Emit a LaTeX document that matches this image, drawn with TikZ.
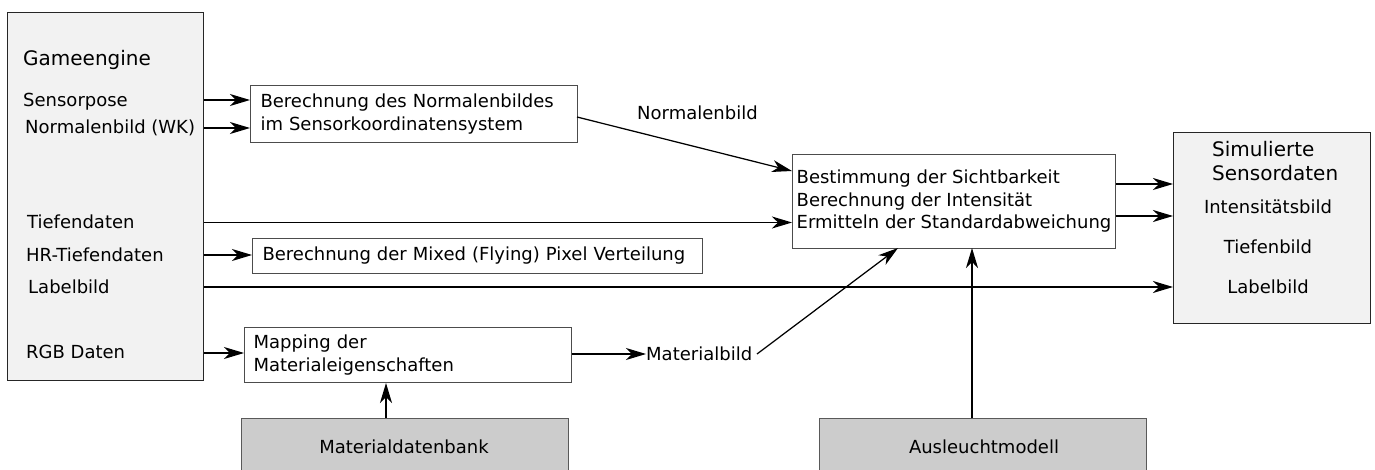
\documentclass[tikz,border=0pt]{standalone}
\usepackage{fontspec}
\setmainfont{DejaVu Sans}
\usetikzlibrary{arrows.meta}
\begin{document}
\begin{tikzpicture}[x=1pt,y=-1pt,
  every node/.style={font=\fontsize{18}{22.5}\selectfont, inner sep=0pt},
  bigtxt/.style={font=\fontsize{20}{24}\selectfont},
  proc/.style={draw=black!70, line width=1pt, fill=white, anchor=north west, inner xsep=10pt, align=left},
  dbox/.style={draw=black!65, line width=1pt, fill=black!20, anchor=north west},
  iobox/.style={draw=black!85, line width=1.2pt, fill=black!5, anchor=north west},
  arr/.style={line width=1.25pt, -{Stealth[length=20pt,width=12pt,inset=6pt]}},
  ln/.style={line width=1.25pt}
]
\useasboundingbox (0,0) rectangle (1375,470);
% Gameengine
\node[iobox, minimum width=196pt, minimum height=368pt] (ge) at (7,12) {};
\node[bigtxt, anchor=west] (tge) at (23,60) {Gameengine};
\node[anchor=west] (tsp) at (23,102) {Sensorpose};
\node[anchor=west] (tnw) at (25,128) {Normalenbild (WK)};
\node[anchor=west] (ttd) at (27,222) {Tiefendaten};
\node[anchor=west] (thr) at (26,255) {HR-Tiefendaten};
\node[anchor=west] (tlb) at (28,287) {Labelbild};
\node[anchor=west] (trgb) at (26,352) {RGB Daten};
% process boxes
\node[proc, text width=307pt, minimum height=57pt] (b1) at (250,85)
  {Berechnung des Normalenbildes\\im Sensorkoordinatensystem};
\node[proc, text width=430pt, minimum height=35pt] (b2) at (252,238)
  {Berechnung der Mixed (Flying) Pixel Verteilung};
\node[proc, text width=309pt, minimum height=55pt, inner xsep=9pt] (b4) at (244,327)
  {Mapping der\\Materialeigenschaften};
\node[proc, minimum width=323pt, minimum height=94pt, inner xsep=4pt] (b3) at (792,154)
  {Bestimmung der Sichtbarkeit\\Berechnung der Intensität\\Ermitteln der Standardabweichung};
% Output
\node[iobox, minimum width=197pt, minimum height=191pt] (out) at (1173,132) {};
\node[bigtxt, align=left, anchor=north west] (tsim) at (1212,141) {Simulierte\\Sensordaten};
\node (tint) at (1268,207) {Intensitätsbild};
\node (ttb) at (1268,247) {Tiefenbild};
\node (tlb2) at (1268,287) {Labelbild};
% databases
\node[dbox, minimum width=327pt, minimum height=62pt] (mdb) at (241,418) {};
\node (tmdb) at (404,447) {Materialdatenbank};
\node[dbox, minimum width=327pt, minimum height=62pt] (alm) at (819,418) {};
\node (talm) at (984,447) {Ausleuchtmodell};
% labels
\node[anchor=west] (nb) at (637,113) {Normalenbild};
\node[anchor=west] (mb) at (646,354) {Materialbild};
% coordinates
\coordinate (b1o) at (577,117);
\coordinate (b3in1) at (792,171);
\coordinate (b3mb) at (898,248);
\coordinate (b3al) at (972,248);
\coordinate (mbe) at (757,354);
\coordinate (mdbt) at (386,418);
\coordinate (almt) at (972,418);
% connectors
\draw[arr] (ge.east |- 0,100) -- (b1.west |- 0,100);
\draw[arr] (ge.east |- tnw) -- (b1.west |- tnw);
\draw[arr] (b1o) -- (b3in1);
\draw[arr] (ge.east |- 0,222.5) -- (b3.west |- 0,222.5);
\draw[arr] (ge.east |- thr) -- (b2.west |- thr);
\draw[arr] (ge.east |- 0,287) -- (out.west |- 0,287);
\draw[arr] (ge.east |- 0,353) -- (b4.west |- 0,353);
\draw[arr] (b4.east |- 0,354) -- (mb.west);
\draw[arr] (mbe) -- (b3mb);
\draw[arr] (mdbt) -- (mdbt |- b4.south);
\draw[arr] (almt) -- (b3al);
\draw[arr] (b3.east |- 0,184) -- (out.west |- 0,184);
\draw[arr] (b3.east |- 0,216) -- (out.west |- 0,216);
\end{tikzpicture}
\end{document}
